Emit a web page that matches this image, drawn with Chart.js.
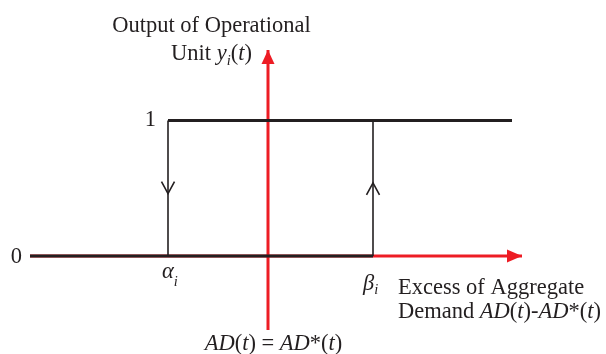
<!DOCTYPE html>
<html>
<head>
<meta charset="utf-8">
<script src="https://cdn.jsdelivr.net/npm/chart.js@4.4.1/dist/chart.umd.min.js"></script>
<style>
html,body{margin:0;padding:0;background:#fff;}
#wrap{width:606px;height:354px;position:relative;}
</style>
</head>
<body>
<div id="wrap"><canvas id="c" width="606" height="354"></canvas></div>
<script>
// ---- data (abstract units: x = excess of aggregate demand, y = output) ----
const outputLevels = [0, 1];            // lower / upper branch
const thresholds = [-1.0, 1.05];        // alpha_i, beta_i
const lowerBranchX = [-2.38, 1.05];     // y = 0 branch
const upperBranchX = [-1.0, 2.44];      // y = 1 branch
const xAxisRange = [-2.38, 2.54];       // red horizontal axis (arrow at end)
const yAxisRange = [-0.546, 1.52];      // red vertical axis (arrow at end)
const arrowMarkY = [0.46, 0.54];        // chevrons on alpha (down) and beta (up) jumps
const viewX = [-2.68, 3.38];
const viewY = [-0.7232, 1.8893];

const RED = '#ed1c24';
const BLACK = '#231f20';
const FONT = '"Liberation Serif", "Times New Roman", serif';

function pts(xs, ys){ return xs.map((x,i)=>({x:x, y:ys[i]})); }

const datasets = [
  {label:'xaxis', data: pts(xAxisRange, [0,0]), borderColor: RED, borderWidth: 3, order: 3},
  {label:'yaxis', data: pts([0,0], yAxisRange), borderColor: RED, borderWidth: 3, order: 3},
  {label:'lower', data: pts(lowerBranchX, [outputLevels[0], outputLevels[0]]), borderColor: BLACK, borderWidth: 3, order: 1},
  {label:'upper', data: pts(upperBranchX, [outputLevels[1], outputLevels[1]]), borderColor: BLACK, borderWidth: 3, order: 1},
  {label:'alphaJump', data: pts([thresholds[0], thresholds[0]], outputLevels), borderColor: BLACK, borderWidth: 1.6, order: 1},
  {label:'betaJump', data: pts([thresholds[1], thresholds[1]], outputLevels), borderColor: BLACK, borderWidth: 1.6, order: 1}
].map(d => Object.assign({showLine:true, pointRadius:0, fill:false, tension:0, borderCapStyle:'butt'}, d));

function drawRuns(ctx, runs, x, y, align){
  // runs: [text, italic, subscriptOffset]
  const parts = runs.map(r => {
    const size = r[2] ? 14.5 : 22.5;
    const font = (r[1] ? 'italic ' : '') + size + 'px ' + FONT;
    ctx.font = font;
    return {t:r[0], font:font, w:ctx.measureText(r[0]).width, dy: r[2] ? r[2] : 0};
  });
  const total = parts.reduce((s,p)=>s+p.w, 0);
  let cx = x;
  if (align === 'center') cx = x - total/2;
  else if (align === 'right') cx = x - total;
  ctx.textBaseline = 'alphabetic';
  ctx.textAlign = 'left';
  parts.forEach(p => { ctx.font = p.font; ctx.fillText(p.t, cx, y + p.dy); cx += p.w; });
}

const decor = {
  id: 'decor',
  afterDatasetsDraw(chart){
    const ctx = chart.ctx, xs = chart.scales.x, ys = chart.scales.y;
    ctx.save();
    // red arrowheads
    ctx.fillStyle = RED;
    const tx = xs.getPixelForValue(xAxisRange[1]), ty0 = ys.getPixelForValue(0);
    ctx.beginPath(); ctx.moveTo(tx, ty0); ctx.lineTo(tx-15, ty0-6.5); ctx.lineTo(tx-15, ty0+6.5); ctx.closePath(); ctx.fill();
    const vx = xs.getPixelForValue(0), vy = ys.getPixelForValue(yAxisRange[1]);
    ctx.beginPath(); ctx.moveTo(vx, vy); ctx.lineTo(vx-6.5, vy+14); ctx.lineTo(vx+6.5, vy+14); ctx.closePath(); ctx.fill();
    // chevrons
    ctx.strokeStyle = BLACK; ctx.lineWidth = 1.6;
    const ax = xs.getPixelForValue(thresholds[0]), ay = ys.getPixelForValue(arrowMarkY[0]);
    ctx.beginPath(); ctx.moveTo(ax-6.5, ay-12); ctx.lineTo(ax, ay); ctx.lineTo(ax+6.5, ay-12); ctx.stroke();
    const bx = xs.getPixelForValue(thresholds[1]), by = ys.getPixelForValue(arrowMarkY[1]);
    ctx.beginPath(); ctx.moveTo(bx-6.5, by+12); ctx.lineTo(bx, by); ctx.lineTo(bx+6.5, by+12); ctx.stroke();
    // labels
    ctx.fillStyle = BLACK;
    const y0 = ys.getPixelForValue(0), y1 = ys.getPixelForValue(1);
    drawRuns(ctx, [['Output of Operational']], vx - 56.5, 32, 'center');
    drawRuns(ctx, [['Unit '],['y',true],['i',true,5],['('],['t',true],[')']], vx - 56.5, 60, 'center');
    drawRuns(ctx, [['1']], ax - 12, y1 + 5, 'right');
    drawRuns(ctx, [['0']], xs.getPixelForValue(lowerBranchX[0]) - 8, y0 + 7, 'right');
    drawRuns(ctx, [['\u03B1',true],['i',true,8]], ax - 6, y0 + 22, 'left');
    drawRuns(ctx, [['\u03B2',true],['i',true,4]], bx - 10, y0 + 34, 'left');
    drawRuns(ctx, [['Excess of Aggregate']], 398, y0 + 38, 'left');
    drawRuns(ctx, [['Demand '],['AD',true],['('],['t',true],[')-'],['AD',true],['*('],['t',true],[')']], 398, y0 + 62, 'left');
    drawRuns(ctx, [['AD',true],['('],['t',true],[') = '],['AD',true],['*('],['t',true],[')']], vx + 5.5, 350, 'center');
    ctx.restore();
  }
};

new Chart(document.getElementById('c'), {
  type: 'scatter',
  data: { datasets: datasets },
  options: {
    responsive: false,
    animation: false,
    events: [],
    layout: { padding: 0 },
    plugins: { legend: {display:false}, tooltip: {enabled:false} },
    scales: {
      x: { type:'linear', display:false, min: viewX[0], max: viewX[1] },
      y: { type:'linear', display:false, min: viewY[0], max: viewY[1] }
    }
  },
  plugins: [decor]
});
</script>
</body>
</html>
